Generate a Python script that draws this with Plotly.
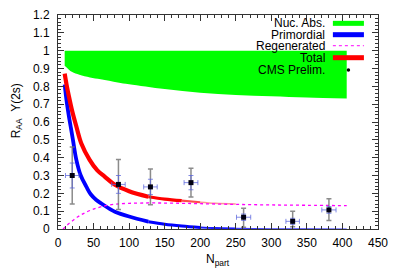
import plotly.graph_objects as go

# ---------------- data ----------------
# CMS preliminary points
npart = [20, 85, 130, 187, 261, 330, 381]
raa = [0.30, 0.25, 0.236, 0.26, 0.066, 0.043, 0.107]
syst_up = [0.16, 0.14, 0.10, 0.08, 0.05, 0.057, 0.062]
syst_dn = [0.16, 0.14, 0.10, 0.08, 0.056, 0.03, 0.06]
stat_err = [0.07, 0.05, 0.043, 0.04, 0.018, 0.017, 0.019]
npart_err = [9.5, 9.5, 9.5, 9.7, 10, 9.5, 10]

# Nuclear absorption band
nuc_n = [9.4, 15, 20, 30, 45, 60, 84, 100, 150, 200, 250, 300, 350, 406]
nuc_lo = [0.915, 0.895, 0.88, 0.865, 0.85, 0.84, 0.822, 0.812, 0.785, 0.764, 0.752, 0.745, 0.738, 0.732]
nuc_hi = [1.0] * len(nuc_n)

# Primordial
prim_n = [9.4, 12, 15, 17.8, 21, 25.8, 32, 39.8, 46, 53.9, 61, 75, 80, 100, 127, 150, 174, 200,
          221, 250, 300, 350, 406]
prim = [0.81, 0.72, 0.64, 0.575, 0.50, 0.388, 0.30, 0.238, 0.195, 0.163, 0.143, 0.107, 0.097, 0.07,
        0.041, 0.027, 0.017, 0.009, 0.005, 0.003, 0.001, 0.0005, 0.0]

# Regenerated
regen_n = [7, 10, 15, 20, 28, 35, 47, 61, 80, 100, 130, 160, 200, 250, 300, 350, 406]
regen = [0.0, 0.01, 0.03, 0.045, 0.069, 0.085, 0.107, 0.125, 0.139, 0.144, 0.146, 0.145, 0.142,
         0.138, 0.135, 0.133, 0.131]

# Total
tot_n = [9.4, 12, 15, 20, 25.8, 32.8, 44.5, 55, 65.6, 80, 100, 127, 150, 174, 200, 221, 250]
tot = [0.871, 0.81, 0.75, 0.66, 0.575, 0.48, 0.388, 0.33, 0.294, 0.248, 0.212, 0.181, 0.168,
       0.159, 0.150, 0.144, 0.14]

legend_labels = ["Nuc. Abs.", "Primordial", "Regenerated", "Total", "CMS Prelim."]

FONT = "Liberation Sans, Arial, Helvetica, sans-serif"

fig = go.Figure()

# green band
fig.add_trace(go.Scatter(x=nuc_n, y=nuc_lo, mode="lines", line=dict(width=0, color="#00ff00", shape="spline"),
                         showlegend=False, hoverinfo="skip"))
fig.add_trace(go.Scatter(x=nuc_n, y=nuc_hi, mode="lines", line=dict(width=0, color="#00ff00"),
                         fill="tonexty", fillcolor="#00ff00", showlegend=False, hoverinfo="skip"))


def add_tapered(xs, ys, cuts, styles):
    """draw one curve in consecutive pieces, each with its own line style"""
    idx = [0] + [xs.index(c) for c in cuts] + [len(xs) - 1]
    for (a, b), (col, w) in zip(zip(idx[:-1], idx[1:]), styles):
        fig.add_trace(go.Scatter(x=xs[a:b + 1], y=ys[a:b + 1], mode="lines",
                                 line=dict(color=col, width=w, shape="spline"),
                                 showlegend=False, hoverinfo="skip"))


# primordial (band narrowing with N_part)
add_tapered(prim_n, prim, [127, 200, 250],
            [("#0000ff", 3.8), ("#0000ff", 3.0), ("#1a1aff", 2.0), ("#4040ff", 1.2)])

# total (band narrowing, merging with regenerated)
add_tapered(tot_n, tot, [127, 174, 200],
            [("#ff0000", 4.2), ("#ff0000", 3.2), ("rgba(255,30,30,0.8)", 2.2), ("rgba(255,80,80,0.6)", 1.5)])

# regenerated
fig.add_trace(go.Scatter(x=regen_n, y=regen, mode="lines",
                         line=dict(color="#ff00ff", width=1.3, dash="dot", shape="spline"), showlegend=False))

# data: systematic (gray) error bars
fig.add_trace(go.Scatter(x=npart, y=raa, mode="markers", marker=dict(color="rgba(0,0,0,0)", size=2),
                         error_y=dict(type="data", symmetric=False, array=syst_up, arrayminus=syst_dn,
                                      color="rgba(110,110,110,0.8)", thickness=1.5, width=2.5),
                         showlegend=False))
# data: statistical (blue) error bars
fig.add_trace(go.Scatter(x=npart, y=raa, mode="markers", marker=dict(color="rgba(0,0,0,0)", size=2),
                         error_y=dict(type="data", array=stat_err, color="rgba(90,100,220,0.75)",
                                      thickness=1, width=2.5),
                         error_x=dict(type="data", array=npart_err, color="rgba(90,100,220,0.75)",
                                      thickness=1, width=2.5),
                         showlegend=False))
fig.add_trace(go.Scatter(x=npart, y=raa, mode="markers",
                         marker=dict(symbol="square", color="#000010", size=5), showlegend=False))

# ---------------- custom legend (text left, sample right) ----------------
rows_y = [0.961, 0.908, 0.8565, 0.8005, 0.743]
tx = 0.8375
sx0, sx1 = 0.859, 0.956
for lab, yy in zip(legend_labels, rows_y):
    fig.add_annotation(x=tx, y=yy, xref="paper", yref="paper", text=lab, showarrow=False,
                       xanchor="right", yanchor="middle", borderpad=0,
                       font=dict(family=FONT, size=12, color="black"))
hh = 0.0117
fig.add_shape(type="rect", xref="paper", yref="paper", x0=sx0, x1=sx1, y0=rows_y[0] - hh, y1=rows_y[0] + hh,
              fillcolor="#00ff00", line=dict(width=0))
fig.add_shape(type="rect", xref="paper", yref="paper", x0=sx0, x1=sx1, y0=rows_y[1] - hh, y1=rows_y[1] + hh,
              fillcolor="#0000ff", line=dict(width=0))
fig.add_shape(type="line", xref="paper", yref="paper", x0=sx0, x1=sx1, y0=rows_y[2], y1=rows_y[2],
              line=dict(color="#ff00ff", width=1, dash="dot"))
fig.add_shape(type="rect", xref="paper", yref="paper", x0=sx0, x1=sx1, y0=rows_y[3] - hh, y1=rows_y[3] + hh,
              fillcolor="#ff0000", line=dict(width=0))
cx = (sx0 + sx1) / 2
fig.add_shape(type="circle", xref="paper", yref="paper", x0=cx - 0.0055, x1=cx + 0.0055,
              y0=rows_y[4] - 0.008, y1=rows_y[4] + 0.008, fillcolor="black", line=dict(width=0))

# axis titles
fig.add_annotation(x=-0.128, y=0.55, xref="paper", yref="paper", text="R<sub>AA</sub>  Υ(2s)",
                   textangle=-90, showarrow=False, xanchor="center", yanchor="middle",
                   font=dict(family=FONT, size=12, color="black"))
fig.add_annotation(x=0.5, y=-0.145, xref="paper", yref="paper", text="N<sub>part</sub>",
                   showarrow=False, xanchor="center", yanchor="middle",
                   font=dict(family=FONT, size=12, color="black"))

axis_common = dict(showgrid=False, zeroline=False, showline=True, linecolor="#333333", linewidth=1,
                   ticks="inside", ticklen=6, tickcolor="#333333", mirror="allticks", automargin=False,
                   tickfont=dict(family=FONT, size=12, color="black"))
fig.update_xaxes(range=[0, 450], dtick=50, tick0=0, ticklabelstandoff=3,
                 minor=dict(dtick=10, ticks="inside", ticklen=3, tickcolor="#333333"), **axis_common)
fig.update_yaxes(range=[0, 1.2], dtick=0.1, tick0=0, ticklabelstandoff=5,
                 minor=dict(dtick=0.02, ticks="inside", ticklen=3, tickcolor="#333333"), **axis_common)

# the page body keeps its default 8px margin, so the figure is 8px smaller than the window
fig.update_layout(template="none", width=391, height=271, margin=dict(l=50, r=21, t=7, b=50),
                  plot_bgcolor="white", paper_bgcolor="white", showlegend=False,
                  font=dict(family=FONT, color="black"))

fig.write_html("out.html")
